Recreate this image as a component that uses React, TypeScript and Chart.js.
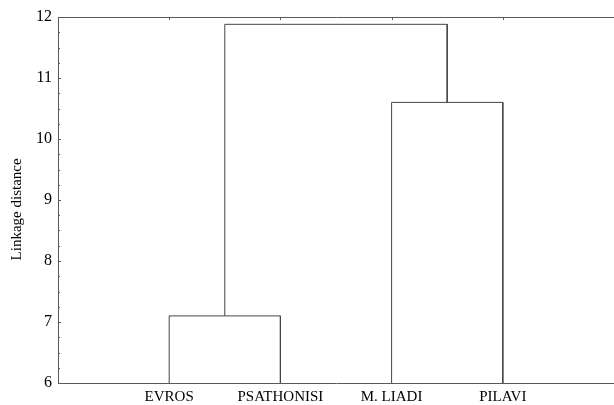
import React, { useEffect, useRef } from "react";
import { Chart, registerables } from "chart.js";

Chart.register(...registerables);

const leafLabels = ["EVROS", "PSATHONISI", "M. LIADI", "PILAVI"];
// merge steps: child node indices (0-3 leaves, 4+ previous merges) and linkage height
const mergeLeft = [0, 2, 4];
const mergeRight = [1, 3, 5];
const mergeHeight = [7.1, 10.6, 11.88];
const yTickMin = 6;
const yTickMax = 12;

const LINE = "#444444";
const AXIS = "#5a5a5a";
const FONT = "'Liberation Serif', 'Times New Roman', serif";

function buildSegments() {
  const xs: number[] = leafLabels.map((_, i) => i + 1);
  const hs: number[] = leafLabels.map(() => yTickMin);
  const segs: { x: number; y: number }[][] = [];
  for (let m = 0; m < mergeHeight.length; m++) {
    const a = mergeLeft[m];
    const b = mergeRight[m];
    const h = mergeHeight[m];
    segs.push([
      { x: xs[a], y: hs[a] },
      { x: xs[a], y: h },
      { x: xs[b], y: h },
      { x: xs[b], y: hs[b] },
    ]);
    xs.push((xs[a] + xs[b]) / 2);
    hs.push(h);
  }
  return segs;
}

const innerTicks = {
  id: "innerTicks",
  afterDraw(chart: any) {
    const ctx = chart.ctx;
    const area = chart.chartArea;
    const y = chart.scales.y;
    const x = chart.scales.x;
    ctx.save();
    ctx.strokeStyle = AXIS;
    ctx.lineWidth = 1;
    for (let v = yTickMin; v <= yTickMax + 1e-9; v += 0.25) {
      const py = Math.round(y.getPixelForValue(v)) + 0.5;
      const major = Math.abs(v - Math.round(v)) < 1e-6;
      ctx.beginPath();
      ctx.moveTo(area.left, py);
      ctx.lineTo(area.left + (major ? 3 : 2), py);
      ctx.stroke();
    }
    for (let i = 0; i < leafLabels.length; i++) {
      const px = Math.round(x.getPixelForValue(i + 1)) + 0.5;
      ctx.beginPath();
      ctx.moveTo(px, area.top);
      ctx.lineTo(px, area.top + 3);
      ctx.stroke();
    }
    ctx.restore();
  },
};

export default function App() {
  const ref = useRef<HTMLCanvasElement | null>(null);
  useEffect(() => {
    if (!ref.current) return;
    const segs = buildSegments();
    const chart = new Chart(ref.current, {
      type: "scatter",
      data: {
        datasets: segs.map((s) => ({
          data: s,
          showLine: true,
          borderColor: LINE,
          borderWidth: 1,
          pointRadius: 0,
          fill: false,
          clip: false as any,
        })),
      },
      options: {
        responsive: false,
        animation: false,
        devicePixelRatio: 1,
        layout: { padding: { left: 0, right: 0, top: 17, bottom: 0 } },
        plugins: { legend: { display: false }, tooltip: { enabled: false } },
        scales: {
          x: {
            type: "linear",
            min: 0,
            max: leafLabels.length + 1,
            afterBuildTicks: (scale: any) => {
              scale.ticks = leafLabels.map((_, i) => ({ value: i + 1 }));
            },
            afterFit: (scale: any) => {
              scale.height = 22;
            },
            ticks: {
              autoSkip: false,
              maxRotation: 0,
              padding: 5,
              color: "#000",
              font: { family: FONT, size: 15 },
              callback: (v: any) => leafLabels[Math.round(Number(v)) - 1] ?? "",
            },
            grid: { display: false, drawTicks: false },
            border: { display: true, color: AXIS, width: 1 },
          },
          xTop: {
            type: "linear",
            position: "top",
            min: 0,
            max: leafLabels.length + 1,
            afterFit: (scale: any) => {
              scale.height = 0;
            },
            ticks: { display: false },
            grid: { display: false, drawTicks: false },
            border: { display: true, color: AXIS, width: 1 },
          },
          y: {
            type: "linear",
            min: yTickMin,
            max: yTickMax,
            afterFit: (scale: any) => {
              scale.width = 58;
            },
            ticks: {
              stepSize: 1,
              padding: 6,
              color: "#000",
              font: { family: FONT, size: 16 },
            },
            grid: { display: false, drawTicks: false },
            border: { display: true, color: AXIS, width: 1 },
            title: {
              display: true,
              text: "Linkage distance     ",
              color: "#000",
              font: { family: FONT, size: 15 },
              padding: { top: 8, bottom: 0 },
            },
          },
        },
      },
      plugins: [innerTicks],
    });
    return () => chart.destroy();
  }, []);
  return (
    <div style={{ position: "fixed", left: 0, top: 0, width: 614, height: 405, background: "#fff" }}>
      <canvas ref={ref} width={614} height={405} style={{ display: "block" }} />
    </div>
  );
}
